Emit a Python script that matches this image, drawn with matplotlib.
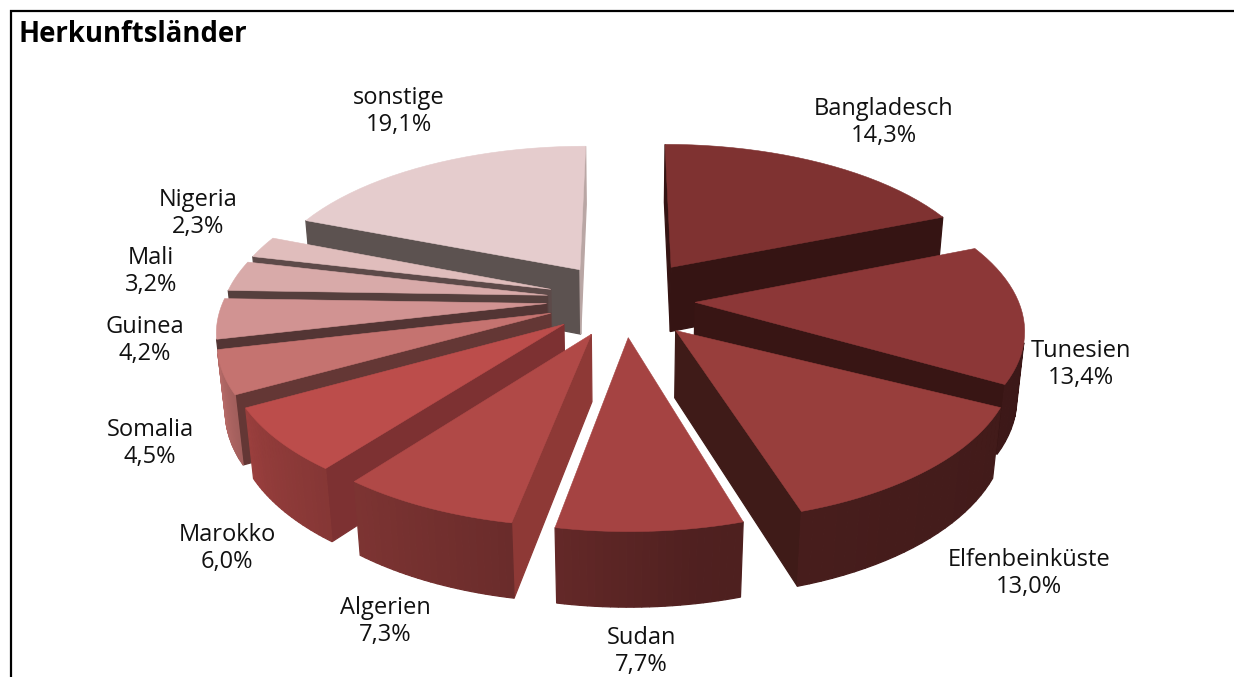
import matplotlib
matplotlib.use('Agg')
import matplotlib.pyplot as plt
from matplotlib.patches import Polygon
import numpy as np

plt.rcParams['font.family'] = ['Open Sans', 'DejaVu Sans']

# Data
laender = ['Bangladesch', 'Tunesien', 'Elfenbeinküste', 'Sudan', 'Algerien', 'Marokko',
           'Somalia', 'Guinea', 'Mali', 'Nigeria', 'sonstige']
anteile = [14.3, 13.4, 13.0, 7.7, 7.3, 6.0, 4.5, 4.2, 3.2, 2.3, 19.1]

# Colours per slice
top_farben = ['#7f3231', '#8c3737', '#983e3c', '#a54342', '#b04947', '#bc4d4b',
              '#c57370', '#d19392', '#d8aaa9', '#e0bdbc', '#e5cccd']
start_farben = ['#351413', '#381514', '#3f1b18', '#5c2624', '#8e3936', '#7d3132',
                '#643735', '#533534', '#553f3d', '#5d4a49', '#5c5250']
end_farben = ['#351413', '#381514', '#3f1b18', '#5c2624', '#8e3936', '#7d3132',
              '#643735', '#533534', '#553f3d', '#5d4a49', '#b9a6a4']

# Label positions (pixel)
label_x = [884, 1081, 1029, 641, 385, 227, 150, 145, 151, 198, 399]
label_y = [107, 349, 558, 636, 606, 533, 428, 325, 256, 198, 96]

# Camera
CX, CY = 624, 300
R = 323
ELEV = np.radians(27.9)
D = 5.74
H = 0.235
explode = [0.27, 0.22, 0.25, 0.24, 0.24, 0.24, 0.24, 0.24, 0.24, 0.24, 0.25]

# the original's perspective stretches the angles a bit
WARP_IN = [0, 54.2, 105, 154.3, 183.5, 211.2, 233.9, 287.7, 360]
WARP_OUT = [0, 68, 120, 163.3, 190.8, 217.5, 241, 291.5, 360]
korr_start = [0, 0, -3.5, 0, 0, 0, 0, 0, 0, 0, 0]
korr_end = [0, 0, -0.5, 0, 0, 0, 0, 0, 0, 0, 0]
# wall brightness relative to the top face
LIGHT_A = [0, 100, 153, 170, 190, 235, 255, 360]
LIGHT_F = [0.42, 0.42, 0.46, 0.48, 0.60, 0.78, 0.92, 0.92]


def proj(X, Y, Z):
    yc = Y * np.sin(ELEV) + Z * np.cos(ELEV)
    zc = Y * np.cos(ELEV) - Z * np.sin(ELEV)
    s = D / (D + zc)
    return CX + R * X * s, CY - R * yc * s


def flaeche(p):
    p = np.array(p)
    x, y = p[:, 0], p[:, 1]
    return np.sum(x * np.roll(y, -1) - np.roll(x, -1) * y)


def wand(ax, a, b, farbe, z):
    # a, b are ground coords, a->b clockwise seen from above
    q = [proj(a[0], a[1], 0), proj(b[0], b[1], 0), proj(b[0], b[1], -H), proj(a[0], a[1], -H)]
    if flaeche(q) < 0:
        ax.add_patch(Polygon(q, closed=True, facecolor=farbe, edgecolor=farbe, linewidth=0.9, zorder=z))


fig = plt.figure(figsize=(12.34, 6.77), dpi=100)
ax = fig.add_axes([0, 0, 1, 1])
ax.set_xlim(0, 1234)
ax.set_ylim(677, 0)
ax.axis('off')

werte = np.array(anteile)
kanten = np.concatenate([[0], np.cumsum(werte)]) / werte.sum() * 360
winkel = np.interp(kanten, WARP_IN, WARP_OUT)

mitten = (winkel[:-1] + winkel[1:]) / 2
reihenfolge = np.argsort(-np.cos(np.radians(mitten)))

for rang, i in enumerate(reihenfolge):
    t1, t2 = winkel[i] + korr_start[i], winkel[i + 1] + korr_end[i]
    m = np.radians(mitten[i])
    ox, oy = explode[i] * np.sin(m), explode[i] * np.cos(m)
    th = np.radians(np.linspace(t1, t2, 25))
    xs = ox + np.sin(th)
    ys = oy + np.cos(th)
    z = 10 + rang
    spitze = (ox, oy)
    wand(ax, spitze, (xs[0], ys[0]), start_farben[i], z)
    wand(ax, (xs[-1], ys[-1]), spitze, end_farben[i], z)
    rgb = np.array(matplotlib.colors.to_rgb(top_farben[i]))
    for k in range(len(th) - 1):
        f = np.interp((np.degrees(th[k]) + np.degrees(th[k + 1])) / 2, LIGHT_A, LIGHT_F)
        wand(ax, (xs[k], ys[k]), (xs[k + 1], ys[k + 1]), tuple(rgb * f), z)
    rand = [proj(ox, oy, 0)] + [proj(a, b, 0) for a, b in zip(xs, ys)]
    ax.add_patch(Polygon(rand, closed=True, facecolor=top_farben[i], edgecolor=top_farben[i],
                         linewidth=0.4, zorder=z))

for name, wert, x, y in zip(laender, anteile, label_x, label_y):
    ax.text(x, y + 2, name, fontsize=17, ha='center', va='center', color='#111111', zorder=50)
    ax.text(x, y + 29, f'{wert:.1f}%'.replace('.', ','), fontsize=17, ha='center', va='center',
            color='#111111', zorder=50)

ax.text(18.5, 35, 'Herkunftsländer', fontsize=19.8, fontweight='bold', ha='left', va='center', color='black')

# frame
ax.plot([11, 11, 1234], [677, 11, 11], color='black', linewidth=1.6, solid_joinstyle='miter')

fig.savefig('out.png', dpi=100)
